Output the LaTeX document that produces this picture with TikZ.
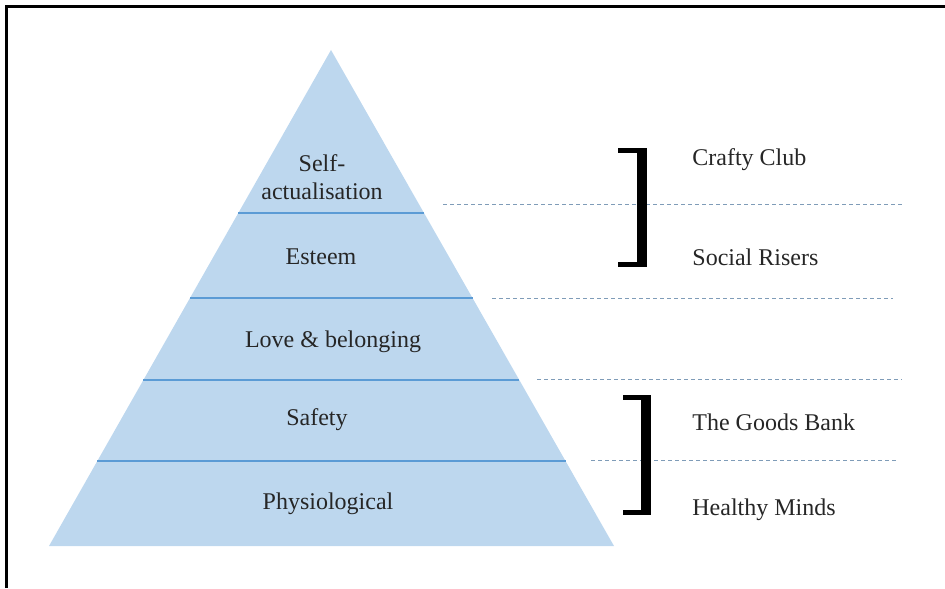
\documentclass[tikz,border=0pt]{standalone}
\usepackage{fontspec}
\setmainfont{Liberation Serif}
\usepackage{xcolor}
\usetikzlibrary{calc}
\definecolor{tierfill}{HTML}{BDD7EE}
\definecolor{tierline}{HTML}{5B9BD5}
\definecolor{guide}{HTML}{7F9CB8}

\begin{document}
\begin{tikzpicture}[
  x=0.5pt, y=-0.5pt,
  font=\fontsize{12}{14}\selectfont,
  level/.style  = {text=black!85, align=center, inner sep=1pt},
  group/.style  = {text=black!85, anchor=west, inner sep=1pt},
  tier/.style   = {draw=tierline, line width=0.6pt},
  guide/.style  = {draw=guide, line width=0.5pt, dash pattern=on 2pt off 1.5pt},
  bar/.style    = {fill=black}
]
\useasboundingbox (0,0) rectangle (945,588);

% frame (open to the right and bottom)
\draw[line width=1.5pt] (6,588) |- (945,7);

%%%%%%%%%%%%%%%%%%%%%%% PYRAMID %%%%%%%%%%%%%%%%%%%%%%%%%%%%%%%%%%%%%%%%%%%%%%
\coordinate (apex) at (331,50);
\coordinate (bl)   at (49,546);
\coordinate (br)   at (614,546);
\fill[tierfill] (apex) -- (br) -- (bl) -- cycle;
\foreach \t in {0.3286,0.5,0.6653,0.8286}
  \draw[tier] ($(apex)!\t!(bl)$) -- ($(apex)!\t!(br)$);

\node[level] (self)   at (322,177) {Self-\\actualisation};
\node[level] (esteem) at (321,257) {Esteem};
\node[level] (love)   at (333,342) {Love \& belonging};
\node[level] (safety) at (317,420) {Safety};
\node[level] (phys)   at (328,504) {Physiological};

%%%%%%%%%%%%%%%%%%%%%%% GROUPS %%%%%%%%%%%%%%%%%%%%%%%%%%%%%%%%%%%%%%%%%%%%%%%
\draw[guide] (443,204) -- (903,204);
\draw[guide] (492,298) -- (893,298);
\draw[guide] (537,379) -- (902,379);
\draw[guide] (591,460) -- (897,460);

% brackets
\fill[bar] (618,148) rectangle (647,153);
\fill[bar] (637,148) rectangle (647,267);
\fill[bar] (618,262) rectangle (647,267);

\fill[bar] (623,395) rectangle (651,400);
\fill[bar] (641,395) rectangle (651,515);
\fill[bar] (623,510) rectangle (651,515);

\node[group] (crafty) at (690,160) {Crafty Club};
\node[group] (social) at (690,257) {Social Risers};
\node[group] (goods)  at (690,422) {The Goods Bank};
\node[group] (minds)  at (690,510) {Healthy Minds};

\end{tikzpicture}
\end{document}
